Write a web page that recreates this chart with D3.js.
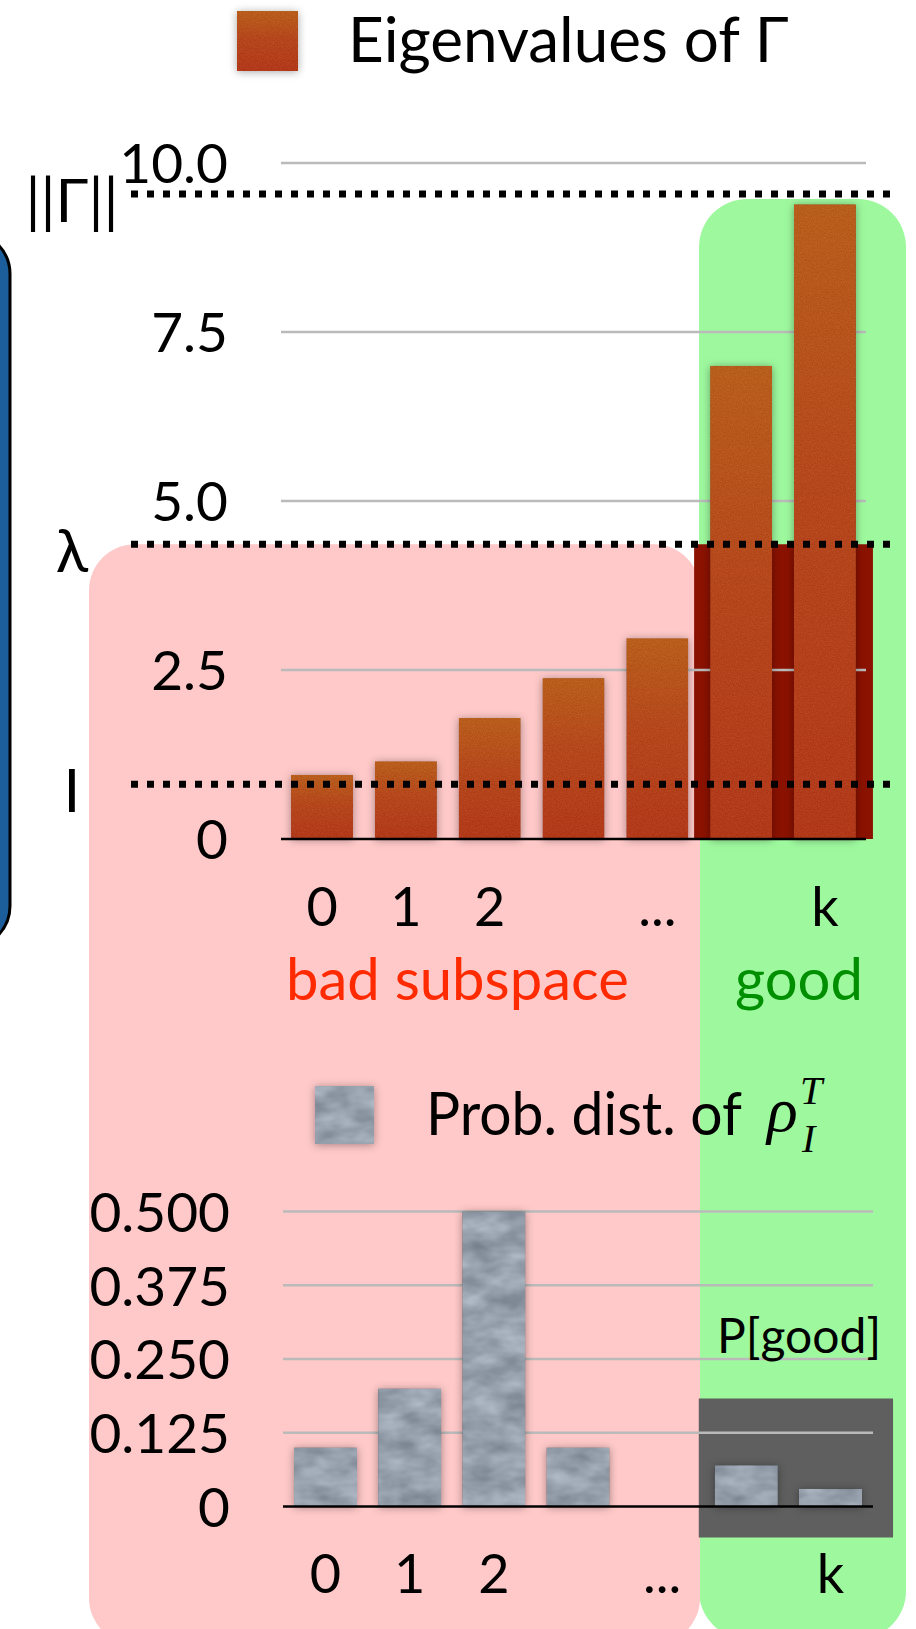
<!DOCTYPE html>
<html>
<head>
<meta charset="utf-8">
<script src="https://cdn.jsdelivr.net/npm/d3@7"></script>
<style>
  html, body { margin: 0; padding: 0; background: #ffffff; }
  svg { display: block; }
  text { font-family: Lato, "Open Sans", "DejaVu Sans", sans-serif; }
</style>
</head>
<body>
<svg id="chart" width="916" height="1629"></svg>
<script>
// ---- data ----
const categories = [0, 1, 2, 3, 4, 5, 6];
const categoryLabels = ["0", "1", "2", "", "...", "", "k"];
const eigenvalues = [0.95, 1.15, 1.79, 2.38, 2.97, 7.0, 9.39];
const eigenTicks = [0, 2.5, 5, 7.5, 10];
const eigenTickLabels = ["0", "2.5", "5.0", "7.5", "10.0"];
const thresholdNames = ["||Γ||", "λ", "I"];
const thresholdValues = [9.54, 4.36, 0.81];
const probabilities = [0.1, 0.2, 0.5, 0.1, 0, 0.07, 0.03];
const probTicks = [0, 0.125, 0.25, 0.375, 0.5];
const probTickLabels = ["0", "0.125", "0.250", "0.375", "0.500"];
const goodCategories = [5, 6];

// ---- layout ----
const W = 916, H = 1629;
const svg = d3.select("#chart");

const xTop = d3.scaleBand().domain(categories).range([281, 866]).paddingInner(0.26).paddingOuter(0.12);
const yTop = d3.scaleLinear().domain([0, 10]).range([839, 163]);
const xBot = d3.scaleBand().domain(categories).range([283, 873]).paddingInner(0.25).paddingOuter(0.13);
const yBot = d3.scaleLinear().domain([0, 0.5]).range([1506.5, 1211.5]);

// ---- defs: gradients, textures, shadows ----
const defs = svg.append("defs");

const eg = defs.append("linearGradient").attr("id", "eigFill")
  .attr("x1", 0).attr("y1", 0).attr("x2", 0).attr("y2", 1);
eg.append("stop").attr("offset", 0).attr("stop-color", "#b85e1c");
eg.append("stop").attr("offset", 0.45).attr("stop-color", "#b5471c");
eg.append("stop").attr("offset", 1).attr("stop-color", "#b1391a");

function texturedFilter(id, freq, octaves, seed, amount, shadowOpacity) {
  const f = defs.append("filter").attr("id", id)
    .attr("filterUnits", "userSpaceOnUse")
    .attr("x", 0).attr("y", 0).attr("width", W).attr("height", H)
    .attr("color-interpolation-filters", "sRGB");
  f.append("feTurbulence").attr("type", "fractalNoise")
    .attr("baseFrequency", freq).attr("numOctaves", octaves).attr("seed", seed).attr("result", "t");
  f.append("feColorMatrix").attr("in", "t").attr("type", "matrix")
    .attr("values", "1 0 0 0 0  1 0 0 0 0  1 0 0 0 0  0 0 0 0 1").attr("result", "g");
  f.append("feComposite").attr("in", "SourceGraphic").attr("in2", "g")
    .attr("operator", "arithmetic").attr("k1", 0).attr("k2", 1)
    .attr("k3", amount).attr("k4", -amount / 2).attr("result", "tex");
  f.append("feComposite").attr("in", "tex").attr("in2", "SourceAlpha")
    .attr("operator", "in").attr("result", "texc");
  f.append("feGaussianBlur").attr("in", "SourceAlpha").attr("stdDeviation", 4).attr("result", "b");
  f.append("feOffset").attr("in", "b").attr("dx", 0).attr("dy", 1).attr("result", "bo");
  f.append("feFlood").attr("flood-color", "#000").attr("flood-opacity", shadowOpacity).attr("result", "fl");
  f.append("feComposite").attr("in", "fl").attr("in2", "bo").attr("operator", "in").attr("result", "sh");
  const m = f.append("feMerge");
  m.append("feMergeNode").attr("in", "sh");
  m.append("feMergeNode").attr("in", "texc");
}
texturedFilter("eigTex", "0.75", 2, 7, 0.12, 0.35);
texturedFilter("probTex", "0.03 0.055", 3, 11, 0.30, 0.35);

// ---- background regions ----
// panel edge on the left
svg.append("rect").attr("x", -200).attr("y", 232).attr("width", 210).attr("height", 716)
  .attr("rx", 42).attr("fill", "#1b5e9b").attr("stroke", "#000").attr("stroke-width", 3);

// "good" region
svg.append("rect").attr("x", 699).attr("y", 199).attr("width", 207).attr("height", 1440)
  .attr("rx", 48).attr("fill", "#9ef99e");

// "bad subspace" region
svg.append("rect").attr("x", 89).attr("y", yTop(thresholdValues[1])).attr("width", 611)
  .attr("height", 1100).attr("rx", 46).attr("fill", "#ffc9c9");

// ---- top chart: eigenvalues ----
const bwTop = xTop.bandwidth();
// dark band marking eigenvalues above λ
svg.append("rect")
  .attr("x", xTop(goodCategories[0]) - 16)
  .attr("y", yTop(thresholdValues[1]))
  .attr("width", xTop(goodCategories[goodCategories.length - 1]) + bwTop + 17 - (xTop(goodCategories[0]) - 16))
  .attr("height", yTop(0) - yTop(thresholdValues[1]))
  .attr("fill", "#8b1200");

// gridlines
svg.append("g").selectAll("line").data(eigenTicks.filter(d => d > 0)).join("line")
  .attr("x1", xTop.range()[0]).attr("x2", xTop.range()[1])
  .attr("y1", d => yTop(d)).attr("y2", d => yTop(d))
  .attr("stroke", "#bababa").attr("stroke-width", 2.5);

// bars
svg.append("g").selectAll("rect").data(categories).join("rect")
  .attr("x", d => xTop(d)).attr("width", bwTop)
  .attr("y", d => yTop(eigenvalues[d]))
  .attr("height", d => yTop(0) - yTop(eigenvalues[d]))
  .attr("fill", "url(#eigFill)")
  .attr("filter", "url(#eigTex)");

// baseline
svg.append("line").attr("x1", xTop.range()[0]).attr("x2", xTop.range()[1])
  .attr("y1", yTop(0)).attr("y2", yTop(0)).attr("stroke", "#000").attr("stroke-width", 2.5);

// y axis labels
const yAxisTop = svg.append("g").attr("transform", "translate(228,0)")
  .call(d3.axisLeft(yTop).tickValues(eigenTicks).tickSize(0).tickPadding(0)
    .tickFormat((d, i) => eigenTickLabels[i]));
yAxisTop.select(".domain").remove();
yAxisTop.selectAll("text").attr("font-size", 55).attr("font-family", null)
  .attr("fill", "#000").attr("dy", "0.36em");

// x axis labels
const xAxisTop = svg.append("g").attr("transform", `translate(0,${yTop(0)})`)
  .call(d3.axisBottom(xTop).tickSize(0).tickPadding(49).tickFormat(d => categoryLabels[d]));
xAxisTop.select(".domain").remove();
xAxisTop.selectAll("text").attr("font-size", 54).attr("font-family", null).attr("fill", "#000");

// threshold lines and their labels
const thr = svg.append("g").selectAll("g").data(thresholdValues).join("g");
thr.append("line")
  .attr("x1", 131).attr("x2", 892)
  .attr("y1", d => yTop(d)).attr("y2", d => yTop(d))
  .attr("stroke", "#000").attr("stroke-width", 7).attr("stroke-dasharray", "7 9");
thr.append("text")
  .attr("x", 72).attr("y", d => yTop(d) + 28)
  .attr("text-anchor", "middle").attr("font-size", 60).attr("fill", "#000")
  .text((d, i) => thresholdNames[i]);

// legend
svg.append("rect").attr("x", 237).attr("y", 11).attr("width", 61).attr("height", 60)
  .attr("fill", "url(#eigFill)").attr("filter", "url(#eigTex)");
svg.append("text").attr("x", 348).attr("y", 62).attr("font-size", 62).attr("fill", "#000")
  .text("Eigenvalues of Γ");

// region captions
svg.append("text").attr("x", 286).attr("y", 1000).attr("font-size", 58).attr("fill", "#ff2a00")
  .text("bad subspace");
svg.append("text").attr("x", 735).attr("y", 1000).attr("font-size", 58).attr("fill", "#008f00")
  .text("good");

// ---- bottom chart: probability distribution ----
const bwBot = xBot.bandwidth();

// box around the probability of the good subspace
const boxX0 = xBot(goodCategories[0]) - 16;
const boxX1 = xBot(goodCategories[goodCategories.length - 1]) + bwBot + 31;
svg.append("rect").attr("x", boxX0).attr("y", yBot(0) - 108)
  .attr("width", boxX1 - boxX0).attr("height", 139).attr("fill", "#5f5f5f");

// gridlines
svg.append("g").selectAll("line").data(probTicks.filter(d => d > 0)).join("line")
  .attr("x1", xBot.range()[0]).attr("x2", xBot.range()[1])
  .attr("y1", d => yBot(d)).attr("y2", d => yBot(d))
  .attr("stroke", "#bababa").attr("stroke-width", 2.5);

// bars
svg.append("g").selectAll("rect").data(categories.filter(d => probabilities[d] > 0)).join("rect")
  .attr("x", d => xBot(d)).attr("width", bwBot)
  .attr("y", d => yBot(probabilities[d]))
  .attr("height", d => yBot(0) - yBot(probabilities[d]))
  .attr("fill", "#96a0ac")
  .attr("filter", "url(#probTex)");

// baseline
svg.append("line").attr("x1", xBot.range()[0]).attr("x2", xBot.range()[1])
  .attr("y1", yBot(0)).attr("y2", yBot(0)).attr("stroke", "#000").attr("stroke-width", 2.5);

// y axis labels
const yAxisBot = svg.append("g").attr("transform", "translate(230,0)")
  .call(d3.axisLeft(yBot).tickValues(probTicks).tickSize(0).tickPadding(0)
    .tickFormat((d, i) => probTickLabels[i]));
yAxisBot.select(".domain").remove();
yAxisBot.selectAll("text").attr("font-size", 55).attr("font-family", null)
  .attr("fill", "#000").attr("dy", "0.36em");

// x axis labels
const xAxisBot = svg.append("g").attr("transform", `translate(0,${yBot(0)})`)
  .call(d3.axisBottom(xBot).tickSize(0).tickPadding(48).tickFormat(d => categoryLabels[d]));
xAxisBot.select(".domain").remove();
xAxisBot.selectAll("text").attr("font-size", 54).attr("font-family", null).attr("fill", "#000");

// P[good] caption
svg.append("text").attr("x", 717).attr("y", 1353).attr("font-size", 48).attr("fill", "#000")
  .text("P[good]");

// legend
svg.append("rect").attr("x", 315).attr("y", 1086).attr("width", 59).attr("height", 58)
  .attr("fill", "#96a0ac").attr("filter", "url(#probTex)");
svg.append("text").attr("x", 426).attr("y", 1135).attr("font-size", 60).attr("fill", "#000")
  .attr("textLength", 316).attr("lengthAdjust", "spacingAndGlyphs")
  .text("Prob. dist. of");

// ρ with superscript T and subscript I, as one text element
const mathFont = "'Liberation Serif', 'DejaVu Serif', serif";
const rho = svg.append("text")
  .style("font-family", mathFont).style("font-style", "italic").attr("fill", "#000");
rho.append("tspan").attr("x", 767).attr("y", 1131).attr("font-size", 64).text("ρ");
rho.append("tspan").attr("x", 800).attr("y", 1104).attr("font-size", 40).text("T");
rho.append("tspan").attr("x", 802).attr("y", 1152).attr("font-size", 40).text("I");
</script>
</body>
</html>
